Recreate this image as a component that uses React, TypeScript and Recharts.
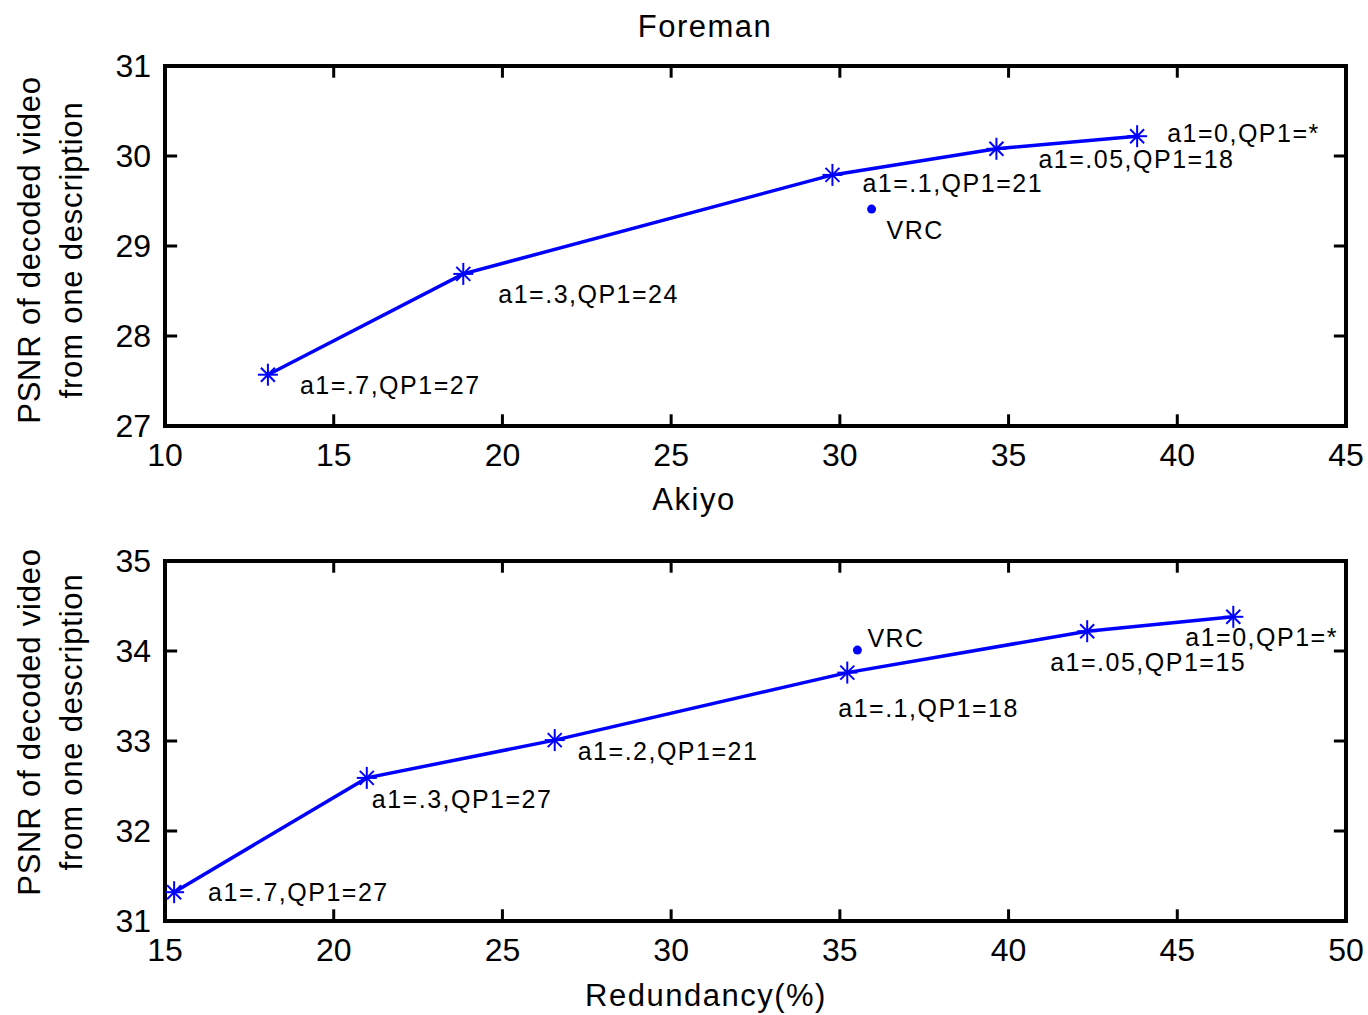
import { ScatterChart, Scatter, XAxis, YAxis, LabelList, ReferenceLine } from "recharts";

const BLUE = "#0000ff";
const FONT = "'Liberation Sans', Arial, sans-serif";

// Foreman
const FOREMAN_REDUNDANCY = [13.05, 18.84, 29.78, 34.64, 38.81];
const FOREMAN_PSNR = [27.57, 28.69, 29.79, 30.08, 30.22];
const FOREMAN_LABELS = [
  "a1=.7,QP1=27",
  "a1=.3,QP1=24",
  "a1=.1,QP1=21",
  "a1=.05,QP1=18",
  "a1=0,QP1=*",
];
const FOREMAN_VRC = { x: 30.94, y: 29.41, label: "VRC" };
const FOREMAN_X_TICKS = [10, 15, 20, 25, 30, 35, 40, 45];
const FOREMAN_Y_TICKS = [27, 28, 29, 30, 31];

// Akiyo
const AKIYO_REDUNDANCY = [15.27, 20.98, 26.55, 35.22, 42.33, 46.66];
const AKIYO_PSNR = [31.32, 32.59, 33.01, 33.76, 34.22, 34.38];
const AKIYO_LABELS = [
  "a1=.7,QP1=27",
  "a1=.3,QP1=27",
  "a1=.2,QP1=21",
  "a1=.1,QP1=18",
  "a1=.05,QP1=15",
  "a1=0,QP1=*",
];
const AKIYO_VRC = { x: 35.52, y: 34.01, label: "VRC" };
const AKIYO_X_TICKS = [15, 20, 25, 30, 35, 40, 45, 50];
const AKIYO_Y_TICKS = [31, 32, 33, 34, 35];

// pixel offsets of the text annotations relative to their point
const FOREMAN_LABEL_OFFSETS = [[32, 10], [35, 20], [30, 8], [42, 10], [30, -3]];
const FOREMAN_VRC_OFFSET = [[15, 21]];
const AKIYO_LABEL_OFFSETS = [[34, 0], [5, 21], [23, 11], [-9, 35], [-37, 31], [-48, 20]];
const AKIYO_VRC_OFFSET = [[10, -12]];

// inward tick length on all four box edges, in data units (~12px)
const TICK_DX = 0.36;
const TICK_DY = 0.13;

const CHART_W = 1368;
const CHART_H = 480;

function Asterisk(props: any) {
  const { cx, cy } = props;
  if (cx == null || cy == null) return null;
  return (
    <g stroke={BLUE} strokeWidth={2}>
      <line x1={cx - 10} y1={cy} x2={cx + 10} y2={cy} />
      <line x1={cx} y1={cy - 11} x2={cx} y2={cy + 11} />
      <line x1={cx - 7} y1={cy - 7} x2={cx + 7} y2={cy + 7} />
      <line x1={cx - 7} y1={cy + 7} x2={cx + 7} y2={cy - 7} />
    </g>
  );
}

function Dot(props: any) {
  const { cx, cy } = props;
  if (cx == null || cy == null) return null;
  return <circle cx={cx} cy={cy} r={4.5} fill={BLUE} />;
}

function makeLabel(offsets: number[][]) {
  return (props: any) => {
    const { x, y, width = 0, height = 0, value, index } = props;
    const o = offsets[index] ?? [0, 0];
    return (
      <text
        x={x + width / 2 + o[0]}
        y={y + height / 2 + o[1]}
        dominantBaseline="central"
        fontSize={25}
        letterSpacing={1.5}
        fontFamily={FONT}
        fill="#000"
      >
        {value}
      </text>
    );
  };
}

const axisLine = { stroke: "#000", strokeWidth: 4, strokeLinecap: "square" as const };
const tickStyle = { fill: "#000", fontSize: 32, fontFamily: FONT };

interface PanelProps {
  xs: number[];
  ys: number[];
  labels: string[];
  vrc: { x: number; y: number; label: string };
  xTicks: number[];
  yTicks: number[];
  offsets: number[][];
  vrcOffset: number[][];
}

function Panel({ xs, ys, labels, vrc, xTicks, yTicks, offsets, vrcOffset }: PanelProps) {
  const rows = xs.map((x, i) => ({ x, y: ys[i], label: labels[i] }));
  const xMin = xTicks[0];
  const xMax = xTicks[xTicks.length - 1];
  const yMin = yTicks[0];
  const yMax = yTicks[yTicks.length - 1];
  const innerX = xTicks.slice(1, -1);
  const innerY = yTicks.slice(1, -1);
  return (
    <ScatterChart
      width={CHART_W}
      height={CHART_H}
      margin={{ top: 66, right: 22, bottom: 14, left: 105 }}
    >
      <XAxis
        type="number"
        dataKey="x"
        domain={[xMin, xMax]}
        ticks={xTicks}
        interval={0}
        allowDataOverflow
        height={40}
        tickSize={0}
        tickMargin={17}
        axisLine={axisLine}
        tickLine={false}
        tick={tickStyle}
      />
      <YAxis
        type="number"
        dataKey="y"
        domain={[yMin, yMax]}
        ticks={yTicks}
        interval={0}
        allowDataOverflow
        width={60}
        tickSize={0}
        tickMargin={14}
        axisLine={axisLine}
        tickLine={false}
        tick={tickStyle}
      />
      {/* top and right edges of the box */}
      <ReferenceLine y={yMax} stroke="#000" strokeWidth={4} strokeLinecap="square" />
      <ReferenceLine x={xMax} stroke="#000" strokeWidth={4} strokeLinecap="square" />
      {/* inward ticks, bottom + top */}
      {innerX.map((t) => (
        <ReferenceLine
          key={`bx${t}`}
          segment={[{ x: t, y: yMin }, { x: t, y: yMin + TICK_DY }]}
          stroke="#000"
          strokeWidth={3}
        />
      ))}
      {innerX.map((t) => (
        <ReferenceLine
          key={`tx${t}`}
          segment={[{ x: t, y: yMax }, { x: t, y: yMax - TICK_DY }]}
          stroke="#000"
          strokeWidth={3}
        />
      ))}
      {/* inward ticks, left + right */}
      {innerY.map((t) => (
        <ReferenceLine
          key={`ly${t}`}
          segment={[{ x: xMin, y: t }, { x: xMin + TICK_DX, y: t }]}
          stroke="#000"
          strokeWidth={3}
        />
      ))}
      {innerY.map((t) => (
        <ReferenceLine
          key={`ry${t}`}
          segment={[{ x: xMax - TICK_DX, y: t }, { x: xMax, y: t }]}
          stroke="#000"
          strokeWidth={3}
        />
      ))}
      <Scatter
        data={rows}
        line={{ stroke: BLUE, strokeWidth: 3.5 }}
        lineType="joint"
        shape={Asterisk}
        isAnimationActive={false}
      >
        <LabelList dataKey="label" content={makeLabel(offsets)} />
      </Scatter>
      <Scatter data={[vrc]} shape={Dot} isAnimationActive={false}>
        <LabelList dataKey="label" content={makeLabel(vrcOffset)} />
      </Scatter>
    </ScatterChart>
  );
}

function Title({ text, cx, cy }: { text: string; cx: number; cy: number }) {
  return (
    <div
      style={{
        position: "absolute",
        left: cx - 200,
        top: cy - 18,
        width: 400,
        height: 36,
        lineHeight: "36px",
        textAlign: "center",
        fontSize: 31,
        letterSpacing: 1.5,
        color: "#000",
      }}
    >
      {text}
    </div>
  );
}

function YTitle({ cx, cy }: { cx: number; cy: number }) {
  return (
    <div
      style={{
        position: "absolute",
        left: cx - 210,
        top: cy - 42,
        width: 420,
        height: 84,
        lineHeight: "42px",
        textAlign: "center",
        fontSize: 31,
        letterSpacing: 0.8,
        color: "#000",
        transform: "rotate(-90deg)",
        transformOrigin: "center",
        whiteSpace: "nowrap",
      }}
    >
      <div>PSNR of decoded video</div>
      <div>from one description</div>
    </div>
  );
}

export default function App() {
  return (
    <div
      style={{
        position: "absolute",
        left: 0,
        top: 0,
        width: 1368,
        height: 1015,
        background: "#fff",
        fontFamily: FONT,
        overflow: "hidden",
      }}
    >
      <div style={{ position: "absolute", left: 0, top: 0 }}>
        <Panel
          xs={FOREMAN_REDUNDANCY}
          ys={FOREMAN_PSNR}
          labels={FOREMAN_LABELS}
          vrc={FOREMAN_VRC}
          xTicks={FOREMAN_X_TICKS}
          yTicks={FOREMAN_Y_TICKS}
          offsets={FOREMAN_LABEL_OFFSETS}
          vrcOffset={FOREMAN_VRC_OFFSET}
        />
      </div>
      <div style={{ position: "absolute", left: 0, top: 495 }}>
        <Panel
          xs={AKIYO_REDUNDANCY}
          ys={AKIYO_PSNR}
          labels={AKIYO_LABELS}
          vrc={AKIYO_VRC}
          xTicks={AKIYO_X_TICKS}
          yTicks={AKIYO_Y_TICKS}
          offsets={AKIYO_LABEL_OFFSETS}
          vrcOffset={AKIYO_VRC_OFFSET}
        />
      </div>
      <Title text="Foreman" cx={705} cy={27} />
      <Title text="Akiyo" cx={694} cy={500} />
      <Title text="Redundancy(%)" cx={706} cy={996} />
      <YTitle cx={51} cy={250} />
      <YTitle cx={51} cy={722} />
    </div>
  );
}
